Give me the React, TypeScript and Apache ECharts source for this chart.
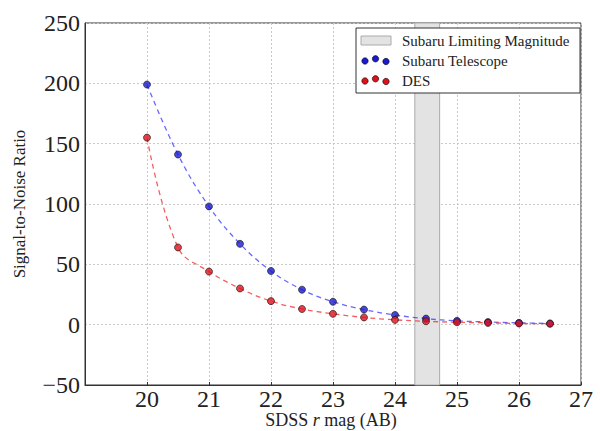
import React, { useEffect, useRef } from "react";
import * as echarts from "echarts";

const magnitudes = [20, 20.5, 21, 21.5, 22, 22.5, 23, 23.5, 24, 24.5, 25, 25.5, 26, 26.5];
const subaruSNR = [199, 141, 98, 67, 44.5, 29, 19, 12.5, 8, 5, 3.2, 2.2, 1.5, 1];
const desSNR = [155, 64, 44, 30, 19.5, 13, 9, 6, 4, 2.8, 2, 1.5, 1, 0.8];
const limitingMag = [24.32, 24.72];
const legendLabels = ["Subaru Limiting Magnitude", "Subaru Telescope", "DES"];
const yAxisName = "Signal-to-Noise Ratio";

const SERIF = "Liberation Serif";

export default function App() {
  const ref = useRef<HTMLDivElement>(null);
  useEffect(() => {
    if (!ref.current) return;
    const chart = echarts.init(ref.current, null, { renderer: "svg" });
    const pairs = (ys: number[]) => magnitudes.map((x, i) => [x, ys[i]]);
    const legendX = 356;
    const legendY = 28;
    const dots = (cy: number, color: string) => [
      { dx: 9, dy: 1 },
      { dx: 19.5, dy: -1.2 },
      { dx: 30, dy: 1.5 },
    ].map((d) => ({
      type: "circle",
      shape: { cx: legendX + d.dx, cy: cy + d.dy, r: 3.2 },
      style: { fill: color, stroke: "#000", lineWidth: 0.6 },
      z: 101,
    }));
    chart.setOption({
      animation: false,
      backgroundColor: "#ffffff",
      grid: {
        left: 85,
        right: 19,
        top: 23,
        bottom: 46,
        show: true,
        borderColor: "#333",
        borderWidth: 1,
        backgroundColor: "transparent",
      },
      xAxis: {
        type: "value",
        min: 19,
        max: 27,
        interval: 1,
        axisLine: { show: true, onZero: false, lineStyle: { color: "#333" } },
        axisTick: { show: true, inside: true, length: 3, lineStyle: { color: "#333" } },
        axisLabel: {
          fontFamily: SERIF,
          fontSize: 24,
          lineHeight: 22,
          color: "#222",
          margin: 3,
          formatter: (v: number) => (v === 19 ? "" : String(v)),
        },
        splitLine: { show: true, lineStyle: { color: "#c8c8c8", type: [2, 2], width: 1 } },
      },
      yAxis: {
        type: "value",
        min: -50,
        max: 250,
        interval: 50,
        name: yAxisName,
        nameLocation: "middle",
        nameGap: 57,
        nameTextStyle: { fontFamily: SERIF, fontSize: 17, color: "#222" },
        axisLine: { show: true, lineStyle: { color: "#333" } },
        axisTick: { show: false },
        axisLabel: {
          fontFamily: SERIF,
          fontSize: 24,
          color: "#222",
          margin: 5,
          formatter: (v: number) => (v < 0 ? "\u2212" + Math.abs(v) : String(v)),
        },
        splitLine: { show: true, lineStyle: { color: "#c8c8c8", type: [2, 2], width: 1 } },
      },
      series: [
        {
          type: "line",
          data: [],
          silent: true,
          markArea: {
            silent: true,
            itemStyle: { color: "#e3e3e3", borderColor: "#aaaaaa", borderWidth: 1 },
            data: [[{ xAxis: limitingMag[0] }, { xAxis: limitingMag[1] }]],
          },
          z: 1,
        },
        {
          type: "line",
          data: pairs(subaruSNR),
          smooth: 0.4,
          showSymbol: false,
          symbol: "none",
          lineStyle: { color: "rgba(40,40,255,0.7)", width: 1.3, type: [5, 4] },
          z: 2,
        },
        {
          type: "line",
          data: pairs(desSNR),
          smooth: 0.4,
          showSymbol: false,
          symbol: "none",
          lineStyle: { color: "rgba(240,40,40,0.75)", width: 1.3, type: [5, 4] },
          z: 2,
        },
        {
          type: "scatter",
          data: pairs(subaruSNR),
          symbolSize: 7,
          itemStyle: { color: "#1a1ad0", borderColor: "#111", borderWidth: 0.8 },
          z: 3,
        },
        {
          type: "scatter",
          data: pairs(desSNR),
          symbolSize: 7,
          itemStyle: { color: "#e0101a", borderColor: "#111", borderWidth: 0.8 },
          z: 4,
        },
      ],
      graphic: [
        {
          type: "text",
          x: 331,
          y: 420,
          style: {
            text: "{n|SDSS }{i|r}{n| mag (AB)}",
            align: "center",
            verticalAlign: "middle",
            rich: {
              n: { fontFamily: SERIF, fontSize: 18, fill: "#222", color: "#222" },
              i: { fontFamily: SERIF, fontSize: 18, fontStyle: "italic", fill: "#222", color: "#222" },
            },
          },
          z: 101,
        },
        {
          type: "rect",
          shape: { x: legendX, y: legendY, width: 224, height: 65 },
          style: { fill: "#fff", stroke: "#333", lineWidth: 1 },
          z: 100,
        },
        {
          type: "rect",
          shape: { x: legendX + 5, y: legendY + 8, width: 30, height: 9 },
          style: { fill: "#e3e3e3", stroke: "#aaaaaa", lineWidth: 1 },
          z: 101,
        },
        ...dots(legendY + 32, "#1a1ad0"),
        ...dots(legendY + 52, "#e0101a"),
        ...legendLabels.map((t, i) => ({
          type: "text",
          x: legendX + 46,
          y: legendY + 13 + i * 20,
          style: {
            text: t,
            fontFamily: SERIF,
            fontSize: 15,
            fill: "#222",
            verticalAlign: "middle",
          },
          z: 101,
        })),
      ],
    });
    return () => chart.dispose();
  }, []);
  return (
    <div
      ref={ref}
      style={{ position: "fixed", left: 0, top: 0, width: 600, height: 431 }}
    />
  );
}
